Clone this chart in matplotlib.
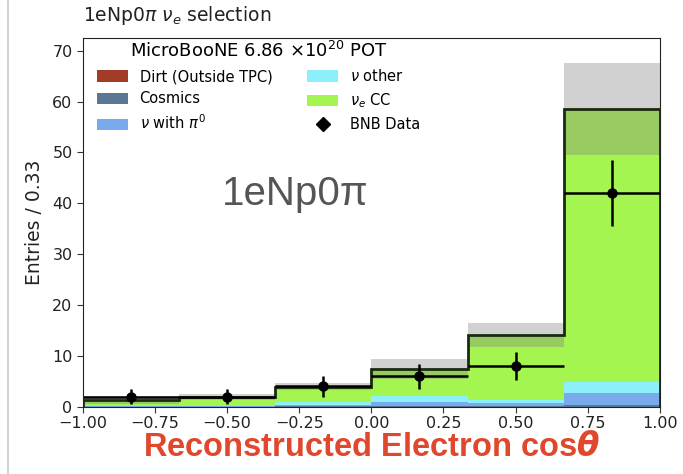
import numpy as np
import matplotlib
matplotlib.use("Agg")
import matplotlib.pyplot as plt
from matplotlib.patches import Patch
from matplotlib.lines import Line2D

# Binning in reconstructed electron cos(theta)
bin_edges = [-1.0, -2/3, -1/3, 0.0, 1/3, 2/3, 1.0]

# Stacked MC predictions per bin (bottom to top)
dirt = [0.0, 0.0, 0.0, 0.0, 0.0, 0.0]
cosmics = [0.0, 0.0, 0.05, 0.1, 0.1, 0.3]
nu_pi0 = [0.05, 0.1, 0.3, 0.8, 0.6, 2.4]
nu_other = [0.05, 0.1, 0.5, 1.3, 0.6, 2.1]
nue_cc = [1.2, 1.7, 3.05, 5.2, 12.8, 53.7]

# Systematic uncertainty on the total prediction
mc_err = [0.8, 0.5, 0.7, 1.9, 2.4, 9.0]

# BNB data
data = [2, 2, 4, 6, 8, 42]

labels = ["Dirt (Outside TPC)", "Cosmics", r"$\nu$ with $\pi^0$",
          r"$\nu$ other", r"$\nu_e$ CC"]
colors = ["#a03c28", "#5a7896", "#78aaec", "#8cf0fa", "#a4f550"]

edges = np.array(bin_edges)
centers = 0.5 * (edges[:-1] + edges[1:])
widths = np.diff(edges)

fig = plt.figure(figsize=(6.83, 4.74), dpi=100)
ax = fig.add_axes([0.1215, 0.142, 0.8445, 0.778])

components = [dirt, cosmics, nu_pi0, nu_other, nue_cc]
bottom = np.zeros(len(centers))
for vals, col in zip(components, colors):
    v = np.array(vals, dtype=float)
    ax.bar(edges[:-1], v, width=widths, bottom=bottom, align="edge",
           color=col, edgecolor="none", linewidth=0)
    bottom = bottom + v
total = bottom

# Uncertainty band
err = np.array(mc_err)
ax.bar(edges[:-1], 2 * err, width=widths, bottom=total - err, align="edge",
       color="#808080", alpha=0.36, edgecolor="none", linewidth=0)

# Total prediction outline
ax.stairs(total, edges, color="#1a2a10", linewidth=2.0)

# Data points
d = np.array(data, dtype=float)
ax.errorbar(centers, d, xerr=widths / 2, yerr=np.sqrt(d), fmt="o",
            color="black", markersize=6.5, elinewidth=1.8, capsize=0)

ax.set_xlim(-1, 1)
ax.set_ylim(0, 72.5)
ax.set_xticks(np.arange(-1, 1.01, 0.25))
ax.set_yticks(np.arange(0, 71, 10))
ax.tick_params(labelsize=11.5, length=4, colors="#333333", labelcolor="#222222")
ax.tick_params(axis="x", pad=2.5)
for s in ax.spines.values():
    s.set_color("#222222")

ax.set_ylabel("Entries / 0.33", fontsize=13.5, color="#222222", labelpad=6)
ax.set_xlabel(r"Reconstructed Electron cos$\mathbfit{\theta}$",
              fontsize=23.5, fontweight="bold", color="#e0472c",
              family="Liberation Sans", labelpad=1)
ax.set_title(r"1eNp0$\pi$ $\nu_e$ selection", loc="left", fontsize=13.5,
             color="#222222", pad=12)

ax.text(-0.52, 41.9, "1eNp0π", fontsize=29, color="#555555",
        family="Liberation Sans", va="center", ha="left")

handles = [Patch(facecolor=c, edgecolor="none") for c in colors]
data_handle = Line2D([], [], marker="D", color="black", linestyle="none",
                     markersize=7)
order_h = handles + [data_handle]
order_l = labels + ["BNB Data"]
leg = ax.legend(order_h, order_l, ncol=2, loc="upper left",
                bbox_to_anchor=(0.007, 1.02), frameon=False, fontsize=10.5,
                title=r"MicroBooNE 6.86 $\times 10^{20}$ POT",
                title_fontsize=13, handlelength=2.1, handleheight=0.8,
                columnspacing=2.4, labelspacing=0.5, borderaxespad=0.3)

fig.add_artist(Line2D([0.012, 0.012], [0, 1], color="#c8c8c8", linewidth=1.2))

fig.savefig("out.png", dpi=100)
